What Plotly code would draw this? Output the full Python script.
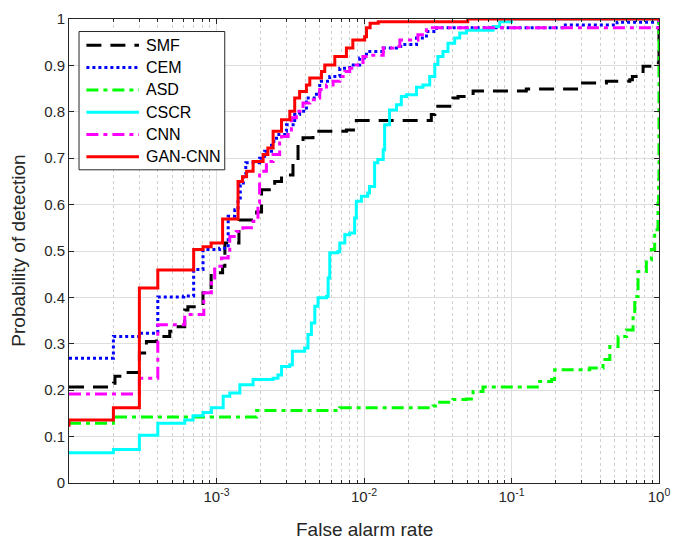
import plotly.graph_objects as go

# ROC data: false alarm rate (x) and probability of detection (y) per detector
fpr_smf = [1e-4, 2e-4, 2.05e-4, 2.39e-4, 3e-4, 3.35e-4, 3.92e-4, 4.82e-4, 5.35e-4, 6.09e-4,
           6.4e-4, 8.1e-4, 9.2e-4, 1.1e-3, 1.14e-3, 1.42e-3, 1.87e-3, 2.02e-3, 2.48e-3, 2.76e-3,
           3.3e-3, 3.57e-3, 3.86e-3, 4.51e-3, 7.6e-3, 8.87e-3, 2.86e-2, 3.02e-2, 4.01e-2, 4.34e-2,
           5.49e-2, 0.126, 0.276, 0.29, 0.44, 0.634, 0.66, 0.78, 0.91, 0.99, 1.0]
tpr_smf = [0.207, 0.215, 0.23, 0.238, 0.28, 0.305, 0.316, 0.327, 0.337, 0.373,
           0.38, 0.41, 0.453, 0.467, 0.517, 0.567, 0.584, 0.632, 0.65, 0.664,
           0.69, 0.736, 0.744, 0.758, 0.761, 0.781, 0.794, 0.812, 0.83, 0.833,
           0.845, 0.849, 0.856, 0.862, 0.866, 0.869, 0.876, 0.898, 0.9, 0.905, 1.0]

fpr_cem = [1e-4, 2e-4, 3e-4, 4e-4, 6e-4, 7e-4, 8.1e-4, 1.05e-3, 1.2e-3, 1.33e-3,
           1.4e-3, 1.45e-3, 1.52e-3, 1.58e-3, 1.96e-3, 2.12e-3, 2.36e-3, 2.55e-3, 2.9e-3, 2.98e-3,
           3.39e-3, 3.66e-3, 4.07e-3, 4.76e-3, 5.01e-3, 5.86e-3, 6.85e-3, 8.0e-3, 9.35e-3, 1.04e-2,
           1.35e-2, 1.66e-2, 1.84e-2, 2.27e-2, 2.65e-2, 3.1e-2, 0.22, 0.52, 1.0]
tpr_cem = [0.269, 0.316, 0.323, 0.401, 0.403, 0.46, 0.503, 0.506, 0.575, 0.589,
           0.611, 0.643, 0.665, 0.69, 0.70, 0.715, 0.736, 0.751, 0.758, 0.772,
           0.794, 0.801, 0.83, 0.844, 0.866, 0.876, 0.894, 0.901, 0.916, 0.93,
           0.9375, 0.941, 0.945, 0.959, 0.973, 0.981, 0.987, 0.993, 1.0]

fpr_asd = [1e-4, 2e-4, 1.87e-3, 6.85e-3, 2.94e-2, 3.26e-2, 4.01e-2, 4.95e-2, 5.49e-2, 6.41e-2,
           0.155, 0.187, 0.196, 0.339, 0.417, 0.464, 0.528, 0.603, 0.667, 0.685,
           0.721, 0.821, 0.888, 0.935, 0.984, 0.995, 1.0]
tpr_asd = [0.129, 0.142, 0.156, 0.162, 0.166, 0.174, 0.18, 0.181, 0.197, 0.207,
           0.219, 0.223, 0.244, 0.248, 0.266, 0.294, 0.316, 0.33, 0.356, 0.402,
           0.456, 0.481, 0.503, 0.546, 0.603, 0.654, 1.0]

fpr_cscr = [1e-4, 2e-4, 3e-4, 4e-4, 6.09e-4, 6.93e-4, 8.1e-4, 9.23e-4, 1.11e-3, 1.23e-3,
            1.44e-3, 1.77e-3, 2.42e-3, 2.61e-3, 2.76e-3, 3.14e-3, 3.27e-3, 3.96e-3, 4.17e-3, 4.4e-3,
            4.64e-3, 4.88e-3, 5.57e-3, 5.71e-3, 5.86e-3, 6.66e-3, 6.85e-3, 7.41e-3, 8.0e-3, 8.64e-3,
            8.87e-3, 9.6e-3, 1.06e-2, 1.09e-2, 1.18e-2, 1.24e-2, 1.35e-2, 1.38e-2, 1.49e-2, 1.66e-2,
            1.79e-2, 1.94e-2, 2.27e-2, 2.51e-2, 2.79e-2, 3.02e-2, 3.17e-2, 3.43e-2, 3.71e-2, 4.12e-2,
            4.46e-2, 4.95e-2, 7.5e-2, 8.32e-2, 0.1, 1.0]
tpr_cscr = [0.065, 0.072, 0.103, 0.129, 0.136, 0.145, 0.152, 0.162, 0.187, 0.194,
            0.212, 0.223, 0.226, 0.233, 0.251, 0.255, 0.284, 0.291, 0.32, 0.345,
            0.381, 0.399, 0.402, 0.442, 0.496, 0.499, 0.517, 0.535, 0.539, 0.571,
            0.607, 0.618, 0.625, 0.639, 0.69, 0.697, 0.718, 0.772, 0.804, 0.815,
            0.833, 0.837, 0.853, 0.858, 0.876, 0.902, 0.919, 0.93, 0.948, 0.959,
            0.97, 0.976, 0.984, 0.994, 1.0, 1.0]

fpr_cnn = [1e-4, 3e-4, 4e-4, 6.09e-4, 8.2e-4, 9.23e-4, 9.72e-4, 1.08e-3, 1.2e-3, 1.23e-3,
           1.36e-3, 1.51e-3, 1.77e-3, 1.91e-3, 1.96e-3, 2.18e-3, 2.42e-3, 2.68e-3, 2.76e-3, 3.06e-3,
           3.22e-3, 3.48e-3, 3.86e-3, 4.29e-3, 4.76e-3, 5.01e-3, 5.57e-3, 6.17e-3, 6.85e-3, 7.41e-3,
           8.0e-3, 8.87e-3, 9.84e-3, 1.12e-2, 1.35e-2, 1.57e-2, 1.75e-2, 2.32e-2, 2.65e-2, 1.0]
tpr_cnn = [0.192, 0.226, 0.341, 0.363, 0.41, 0.438, 0.467, 0.485, 0.496, 0.531,
           0.542, 0.55, 0.564, 0.603, 0.672, 0.693, 0.708, 0.733, 0.747, 0.761,
           0.787, 0.801, 0.819, 0.826, 0.83, 0.848, 0.858, 0.866, 0.876, 0.887,
           0.894, 0.901, 0.919, 0.922, 0.9375, 0.941, 0.955, 0.966, 0.981, 1.0]

fpr_gan = [1e-4, 1e-4, 2e-4, 3e-4, 4e-4, 7e-4, 8.1e-4, 9.2e-4, 1.1e-3, 1.4e-3,
           1.5e-3, 1.6e-3, 1.77e-3, 2.07e-3, 2.23e-3, 2.42e-3, 2.76e-3, 3.14e-3, 3.39e-3, 3.66e-3,
           4.07e-3, 4.29e-3, 5.15e-3, 5.42e-3, 6.34e-3, 7.6e-3, 8.4e-3, 1.01e-2, 1.04e-2, 1.1e-2,
           1.25e-2, 5.05e-2, 1.0]
tpr_gan = [0.121, 0.136, 0.162, 0.42, 0.459, 0.503, 0.509, 0.517, 0.569, 0.65,
           0.66, 0.672, 0.693, 0.708, 0.722, 0.758, 0.783, 0.801, 0.83, 0.844,
           0.858, 0.873, 0.887, 0.901, 0.919, 0.9375, 0.955, 0.962, 0.981, 0.991,
           0.994, 1.0, 1.0]

names = ["SMF", "CEM", "ASD", "CSCR", "CNN", "GAN-CNN"]
fprs = [fpr_smf, fpr_cem, fpr_asd, fpr_cscr, fpr_cnn, fpr_gan]
tprs = [tpr_smf, tpr_cem, tpr_asd, tpr_cscr, tpr_cnn, tpr_gan]
colors = ["#000000", "#0000ff", "#00ff00", "#00ffff", "#ff00ff", "#ff0000"]
dashes = ["15px,9px", "3px,3px", "12px,5px,4px,5px", "solid", "12px,5px,4px,5px", "solid"]

x_tick_vals = [1e-3, 1e-2, 1e-1, 1]
x_tick_text = ["10<sup>-3</sup>", "10<sup>-2</sup>", "10<sup>-1</sup>", "10<sup>0</sup>"]

FONT = "Liberation Sans, Arial, Helvetica, sans-serif"
AXIS_COLOR = "#262626"

fig = go.Figure()
for name, x, y, c, d in zip(names, fprs, tprs, colors, dashes):
    fig.add_trace(go.Scatter(
        x=x, y=y, mode="lines", name=name, showlegend=False,
        line=dict(color=c, width=3, dash=d, shape="hv"),
    ))

minor_vals = [m * 10.0 ** e for e in range(-4, 0) for m in range(2, 10)]

fig.update_xaxes(
    type="log", range=[-4, 0], automargin=False,
    tickvals=x_tick_vals, ticktext=x_tick_text,
    ticks="inside", ticklen=5, tickcolor=AXIS_COLOR,
    showline=True, linecolor=AXIS_COLOR, linewidth=1, mirror="ticks",
    showgrid=True, gridcolor="#dedede", gridwidth=1,
    minor=dict(tickvals=minor_vals, ticks="inside", ticklen=3, tickcolor=AXIS_COLOR,
               showgrid=True, gridcolor="#d0d0d0", griddash="dot", gridwidth=1),
    tickfont=dict(family=FONT, size=15, color=AXIS_COLOR),
    zeroline=False,
)
fig.update_yaxes(
    range=[0, 1], dtick=0.1, tick0=0, automargin=False,
    ticks="inside", ticklen=5, tickcolor=AXIS_COLOR,
    showline=True, linecolor=AXIS_COLOR, linewidth=1, mirror="ticks",
    showgrid=True, gridcolor="#dedede", gridwidth=1,
    tickfont=dict(family=FONT, size=15, color=AXIS_COLOR),
    zeroline=False,
)

# Legend drawn inside the axes box
legend_rows = [0.9435, 0.8955, 0.8472, 0.7991, 0.7511, 0.703]
shapes = [dict(type="rect", xref="x domain", yref="y domain", x0=0.017, x1=0.264,
               y0=0.675, y1=0.973, line=dict(color=AXIS_COLOR, width=1), fillcolor="white",
               layer="above")]
annotations = []
for name, c, d, ry in zip(names, colors, dashes, legend_rows):
    shapes.append(dict(type="line", xref="x domain", yref="y domain", x0=0.0295, x1=0.1186,
                       y0=ry, y1=ry, line=dict(color=c, width=3, dash=d), layer="above"))
    annotations.append(dict(xref="x domain", yref="y domain", x=0.1266, y=ry, text=name,
                            showarrow=False, xanchor="left", yanchor="middle",
                            font=dict(family=FONT, size=16, color="#000000")))

annotations.append(dict(xref="x domain", yref="paper", x=0.5, y=-0.1006, text="False alarm rate",
                        showarrow=False, xanchor="center", yanchor="middle",
                        font=dict(family=FONT, size=19, color=AXIS_COLOR)))
annotations.append(dict(xref="paper", yref="y domain", x=-0.087, y=0.5, text="Probability of detection",
                        showarrow=False, xanchor="center", yanchor="middle", textangle=-90,
                        font=dict(family=FONT, size=19, color=AXIS_COLOR)))

fig.update_layout(
    width=673, height=542,
    margin=dict(l=69, r=14, t=19, b=59, autoexpand=False),
    paper_bgcolor="white", plot_bgcolor="white",
    shapes=shapes, annotations=annotations,
    showlegend=False,
)

fig.write_html("out.html")
